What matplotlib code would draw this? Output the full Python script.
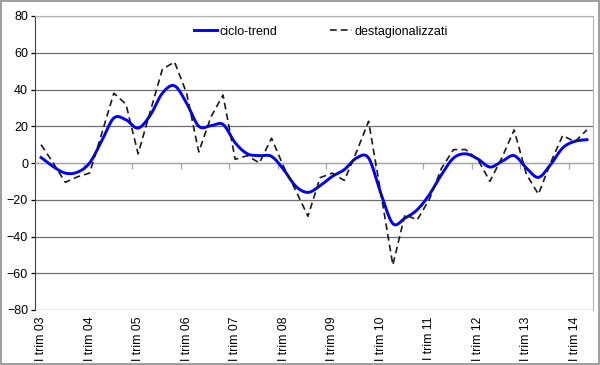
# Ciclo-trend vs destagionalizzati, quarterly 2003-2014
import numpy as np
from matplotlib import pyplot as plt
from matplotlib.transforms import blended_transform_factory

# one value per quarter, I trim 03 .. II trim 14
ciclo_trend = [3, -2, -5.5, -5, 0, 12, 24.5, 23.5, 19, 26, 38, 42,
               32.5, 20, 20.3, 21, 11, 5, 4, 3.6, -3.6, -12.7, -16, -12.4,
               -7.3, -3.6, 2.7, 2.7, -16.4, -33, -30, -25.5, -17.3, -6.4, 2.7, 5,
               2.2, -2.2, 0.9, 4, -2.7, -7.8, -0.9, 8.2, 11.8, 12.7]
destagionalizzati = [10, 0, -10.5, -7.5, -5.5, 16, 38, 32, 5, 28, 51, 55,
                     38, 6, 25, 37, 2, 4, 0, 13.5, -2, -15, -29, -8,
                     -5.5, -9.5, 6, 22.7, -16, -55.5, -28, -31, -20, -3, 7.3, 7.3,
                     2, -10, 3, 18, -6, -17, 0, 15, 11.5, 18]
tick_labels = ["I trim %02d" % y for y in range(3, 15)]
y_ticks = list(range(-80, 81, 20))


def smooth(values, steps=12):
    # Catmull-Rom curve through the points, like Excel "smoothed line"
    p = np.asarray(values, dtype=float)
    x = np.arange(len(p), dtype=float)
    pp = np.concatenate([[2 * p[0] - p[1]], p, [2 * p[-1] - p[-2]]])
    xs, ys = [], []
    t = np.linspace(0, 1, steps, endpoint=False)
    for i in range(len(p) - 1):
        p0, p1, p2, p3 = pp[i], pp[i + 1], pp[i + 2], pp[i + 3]
        y = 0.5 * (2 * p1 + (-p0 + p2) * t + (2 * p0 - 5 * p1 + 4 * p2 - p3) * t ** 2
                   + (-p0 + 3 * p1 - 3 * p2 + p3) * t ** 3)
        xs.append(x[i] + t)
        ys.append(y)
    xs.append([x[-1]])
    ys.append([p[-1]])
    return np.concatenate(xs), np.concatenate(ys)


plt.rcParams['font.family'] = ['Liberation Sans', 'DejaVu Sans']
fig = plt.figure(figsize=(6, 3.65), dpi=100)
fig.patch.set_edgecolor('#a0a0a0')
fig.patch.set_linewidth(1.5)
ax = fig.add_axes([35 / 600, 1 - 310 / 365, 558 / 600, 294 / 365])

n = len(ciclo_trend)
xs, ys = smooth(ciclo_trend)
ax.plot(xs, ys, color='#0000ff', lw=2.1, label='ciclo-trend', zorder=3)
ax.plot(range(n), destagionalizzati, color='#1a1a1a', lw=1.2,
        linestyle=(0, (4, 2.5)), label='destagionalizzati', zorder=4)

ax.set_xlim(-0.5, n - 0.5)
ax.set_ylim(-80, 80)
ax.set_yticks(y_ticks)
ax.yaxis.grid(True, color='#6e6e6e', lw=0.9)
ax.set_axisbelow(True)
ax.tick_params(axis='y', length=3, width=0.9, pad=2, labelsize=9, colors='#000000')

# category axis crosses at 0, boundaries ticked every year
ax.spines['bottom'].set_position(('data', 0))
ax.spines['bottom'].set_color('#a6a6a6')
ax.set_xticks(np.arange(3.5, n - 1, 4))
ax.tick_params(axis='x', length=4, width=0.9, colors='#a6a6a6', labelbottom=False)
ax.spines['left'].set_color('#404040')
for s in ('top', 'right'):
    ax.spines[s].set_color('#b4b4b4')

trans = blended_transform_factory(ax.transData, ax.transAxes)
for k, lab in enumerate(tick_labels):
    ax.text(4 * k, -0.022, lab, transform=trans, rotation=90, ha='center', va='top',
            fontsize=8.8)

ax.legend(loc='center', bbox_to_anchor=(0.513, 0.947), ncol=2, frameon=False,
          fontsize=9, handlelength=1.8, handletextpad=0.2, columnspacing=4.2)

fig.savefig('out.png', dpi=100, edgecolor=fig.get_edgecolor())
